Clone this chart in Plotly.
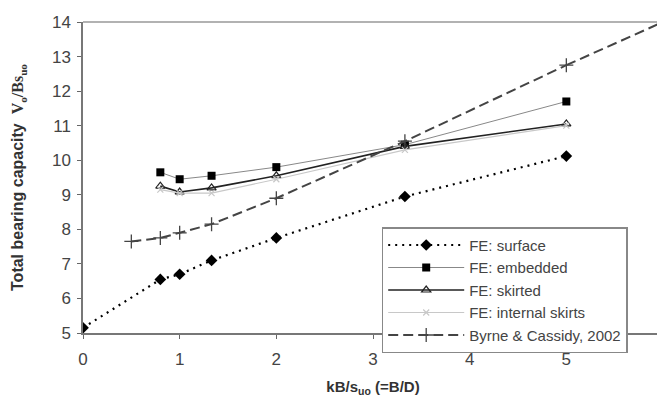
import plotly.graph_objects as go

x_fe = [0.8, 1.0, 1.33, 2.0, 3.33, 5.0]
x_surface = [0.0, 0.8, 1.0, 1.33, 2.0, 3.33, 5.0]
y_surface = [5.15, 6.55, 6.7, 7.1, 7.75, 8.95, 10.12]
y_embedded = [9.65, 9.45, 9.55, 9.8, 10.45, 11.7]
y_skirted = [9.25, 9.08, 9.2, 9.55, 10.4, 11.05]
y_internal = [9.15, 9.05, 9.05, 9.45, 10.3, 11.0]
x_byrne = [0.5, 0.8, 1.0, 1.33, 2.0, 3.33, 5.0]
y_byrne = [7.65, 7.75, 7.9, 8.15, 8.9, 10.55, 12.75]
x_byrne_ext = [5.0, 6.0]
y_byrne_ext = [12.75, 14.0]

fig = go.Figure()
fig.add_trace(go.Scatter(x=x_surface, y=y_surface, name="FE: surface", mode="lines+markers",
                         line=dict(color="black", width=2.2, dash="2px,5px"),
                         marker=dict(symbol="diamond", size=9, color="black")))
fig.add_trace(go.Scatter(x=x_fe, y=y_embedded, name="FE: embedded", mode="lines+markers",
                         line=dict(color="#888888", width=1),
                         marker=dict(symbol="square", size=8, color="black")))
fig.add_trace(go.Scatter(x=x_fe, y=y_skirted, name="FE: skirted", mode="lines+markers",
                         line=dict(color="#222222", width=1.6),
                         marker=dict(symbol="triangle-up-open", size=8, color="#222222", line=dict(width=1.2))))
fig.add_trace(go.Scatter(x=x_fe, y=y_internal, name="FE: internal skirts", mode="lines+markers",
                         line=dict(color="#c8c8c8", width=1.2),
                         marker=dict(symbol="x-thin-open", size=6, color="#c8c8c8", line=dict(width=1.2, color="#c8c8c8"))))
fig.add_trace(go.Scatter(x=x_byrne, y=y_byrne, name="Byrne & Cassidy, 2002", mode="lines+markers",
                         line=dict(color="#444444", width=2, dash="10px,5px"),
                         marker=dict(symbol="cross-thin-open", size=10, color="#444444", line=dict(width=1.3, color="#444444"))))
fig.add_trace(go.Scatter(x=x_byrne_ext, y=y_byrne_ext, mode="lines", showlegend=False,
                         line=dict(color="#444444", width=2, dash="10px,5px")))

fig.update_layout(
    width=657, height=395,
    margin=dict(l=75, r=2, t=14, b=70),
    paper_bgcolor="white", plot_bgcolor="white",
    font=dict(family="Liberation Sans, Arial, sans-serif", size=17, color="#444444"),
    showlegend=True,
    legend=dict(x=0.515, y=0.34, xanchor="left", yanchor="top",
                bgcolor="white", bordercolor="#888888", borderwidth=1.5,
                font=dict(size=15, color="#444444"), itemwidth=76,
                tracegroupgap=0, traceorder="normal"),
    xaxis=dict(range=[0, 6], tickvals=[0, 1, 2, 3, 4, 5, 6], ticks="outside", ticklen=4,
               tickcolor="#666666", showgrid=False, zeroline=False, automargin=False,
               ticklabelstandoff=6, ticklabeloverflow="allow",
               showline=True, linecolor="#777777", linewidth=1.5, mirror=False,
               title=dict(text="<b>kB/s<sub>uo</sub> (=B/D)</b>", font=dict(size=15, color="#333333"), standoff=13)),
    yaxis=dict(range=[5, 14], tickvals=list(range(5, 15)), ticks="outside", ticklen=4,
               tickcolor="#666666", showgrid=False, zeroline=False, automargin=False,
               ticklabelstandoff=3, ticklabeloverflow="allow",
               showline=True, linecolor="#777777", linewidth=1.5, mirror=False,
               title=dict(text="<b>Total bearing capacity  <span style=\"font-family:'Liberation Serif', 'Times New Roman', serif\">V<sub>o</sub>/Bs<sub>uo</sub></span></b>",
                          font=dict(size=16, color="#333333"), standoff=24)),
)
fig.add_shape(type="line", xref="paper", yref="paper", x0=0, x1=1, y0=1, y1=1,
              line=dict(color="#999999", width=1.5))
fig.add_shape(type="line", xref="paper", yref="paper", x0=1, x1=1, y0=0, y1=1,
              line=dict(color="#999999", width=1.5))

fig.write_html("out.html")
